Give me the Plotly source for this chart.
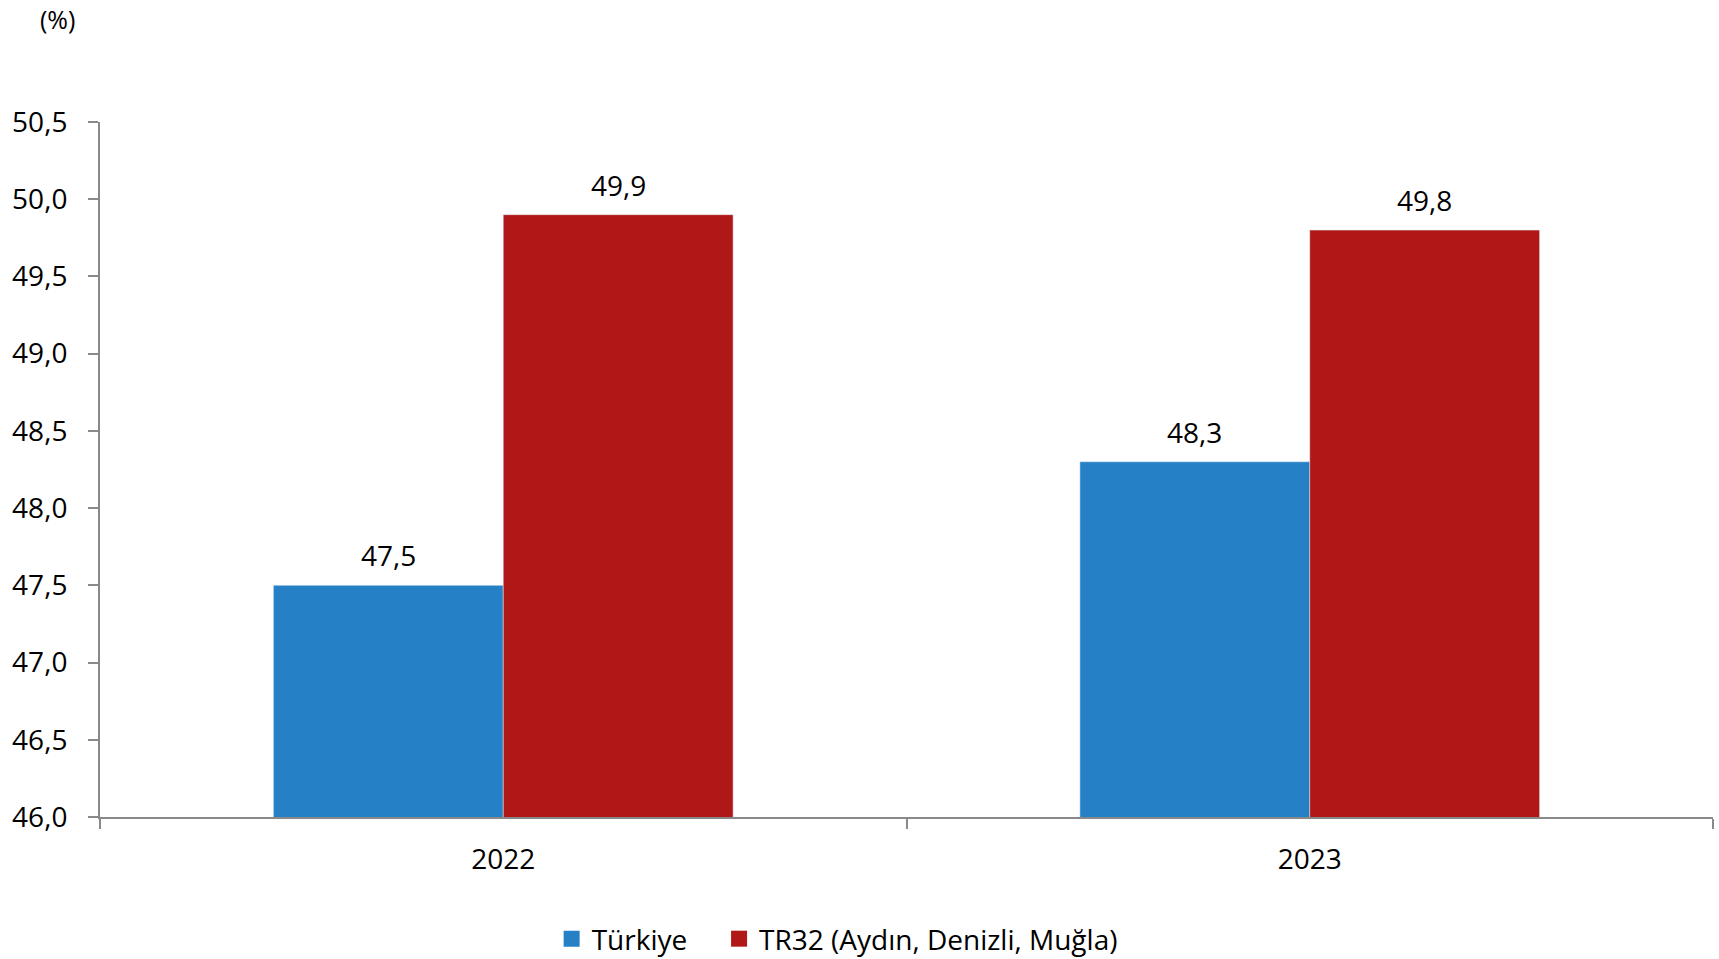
import plotly.graph_objects as go

years = ["2022", "2023"]
turkiye = [47.5, 48.3]
tr32 = [49.9, 49.8]
series_names = ["Türkiye", "TR32 (Aydın, Denizli, Muğla)"]
colors = ["#2680C6", "#B01717"]
y_ticks = [46.0, 46.5, 47.0, 47.5, 48.0, 48.5, 49.0, 49.5, 50.0, 50.5]

FONT = "Open Sans"
FS = 28
BARGAP = 0.43

fig = go.Figure()
legend_ids = ["legend", "legend2"]
for name, vals, col, lg in zip(series_names, [turkiye, tr32], colors, legend_ids):
    fig.add_trace(go.Bar(x=years, y=vals, name=name, marker_color=col, showlegend=False))
    # legend-only entry with larger square swatch
    fig.add_trace(go.Scatter(x=[None], y=[None], mode="markers", name=name, legend=lg,
                             marker=dict(symbol="square", size=17, color=col)))

# value labels above bars (positioned in data coordinates)
annotations = []
half = (1 - BARGAP) / 4
for s, vals in enumerate([turkiye, tr32]):
    off = -half if s == 0 else half
    for i, v in enumerate(vals):
        annotations.append(dict(x=i + off, y=v, xref="x", yref="y",
                                text=f"{v:.1f}".replace(".", ","), showarrow=False,
                                xanchor="center", yanchor="middle", yshift=30,
                                font=dict(size=FS, family=FONT, color="black")))
annotations.append(dict(text="(%)", xref="paper", yref="paper", x=-0.0263, y=1.1755,
                        xanchor="center", yanchor="top", showarrow=False,
                        font=dict(size=25, family=FONT, color="black")))

leg_common = dict(orientation="h", y=-0.1755, yanchor="middle", xanchor="left",
                  font=dict(size=FS, family=FONT), bgcolor="rgba(0,0,0,0)")
fig.update_layout(
    width=1719, height=959,
    margin=dict(l=100, r=6, t=122, b=142, autoexpand=False),
    paper_bgcolor="white", plot_bgcolor="white",
    separators=",.",
    barmode="group", bargap=BARGAP, bargroupgap=0,
    font=dict(family=FONT, size=FS, color="black"),
    showlegend=True,
    legend=dict(x=0.2800, **leg_common),
    legend2=dict(x=0.3838, **leg_common),
    annotations=annotations,
)
fig.update_yaxes(range=[46, 50.5], tickvals=y_ticks, tickformat=".1f", automargin=False,
                 showgrid=False, zeroline=False, showline=True, linecolor="#898989", linewidth=2,
                 ticks="outside", ticklen=10, tickcolor="#898989", tickwidth=2,
                 tickfont=dict(size=FS, family=FONT), ticklabelstandoff=15)
fig.update_xaxes(showgrid=False, showline=True, linecolor="#898989", linewidth=2, automargin=False,
                 ticks="outside", ticklen=10, tickcolor="#898989", tickwidth=2,
                 tickson="boundaries", tickfont=dict(size=FS, family=FONT), ticklabelstandoff=16)

# remove the default 8px page margin so the figure fills the window exactly
fig.write_html("out.html", config={"displayModeBar": False},
               post_script="document.body.style.margin='0';")
